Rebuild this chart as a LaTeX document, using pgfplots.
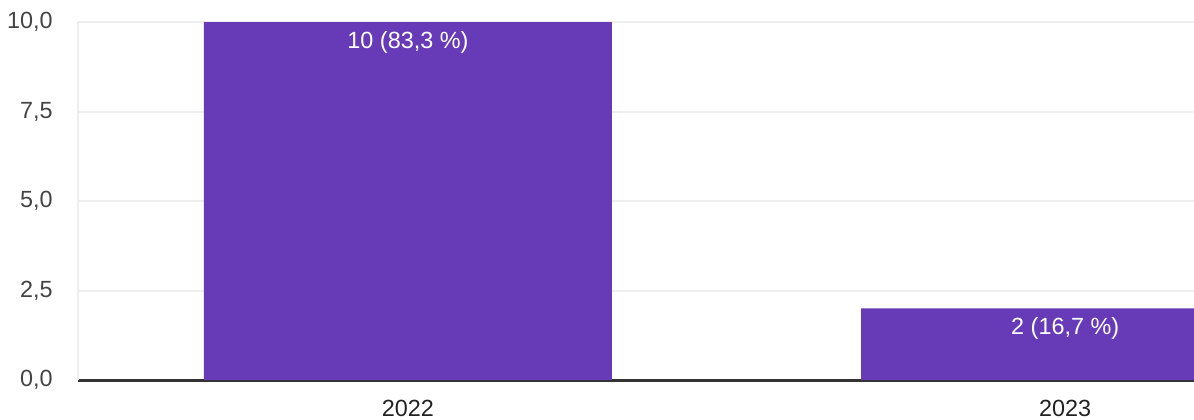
\documentclass[border=0pt]{standalone}
\usepackage{fontspec}
\setmainfont{Liberation Sans}
\usepackage{pgfplots}
\pgfplotsset{compat=1.18}
\definecolor{barpurple}{HTML}{673AB7}
\definecolor{gridgrey}{HTML}{EEEEEE}
\definecolor{axisdark}{HTML}{333333}
\definecolor{ticktext}{HTML}{444444}
\definecolor{cattext}{HTML}{222222}
\begin{document}
\begin{tikzpicture}
\begin{axis}[
    at={(39pt,19.5pt)}, anchor=south west,
    scale only axis, width=558pt, height=179pt,
    xmin=-0.502, xmax=1.196, ymin=0, ymax=10,
    axis lines=left,
    x axis line style={-, draw=axisdark, line width=1.5pt},
    y axis line style={-, draw=gridgrey, line width=1pt},
    ytick={0,2.5,5,7.5,10},
    ymajorgrids, grid style={draw=gridgrey, line width=1pt},
    xtick={0,1}, xticklabels={2022,2023},
    major tick length=0pt,
    /pgf/number format/.cd, fixed, fixed zerofill, precision=1, use comma, assume math mode=true,
    /pgfplots/.cd,
    yticklabel style={anchor=east, inner sep=0pt, xshift=-12.5pt, text=ticktext, font=\fontsize{11.7}{14}\selectfont},
    xticklabel style={anchor=north, inner sep=0pt, yshift=-10pt, text=cattext, font=\fontsize{11.7}{14}\selectfont},
    ybar, bar width=204pt, bar shift=0pt,
    nodes near coords, point meta=explicit symbolic,
    every node near coord/.append style={anchor=north, inner sep=0pt, yshift=-4.5pt, text=white, font=\fontsize{11.7}{14}\selectfont},
]
\addplot[fill=barpurple, draw=none] coordinates {(0,10) [10 (83,3 \%)] (1,2) [2 (16,7 \%)]};
\end{axis}
\pgfresetboundingbox
\path (0,0) rectangle (597pt,209.5pt);
\end{tikzpicture}
\end{document}
